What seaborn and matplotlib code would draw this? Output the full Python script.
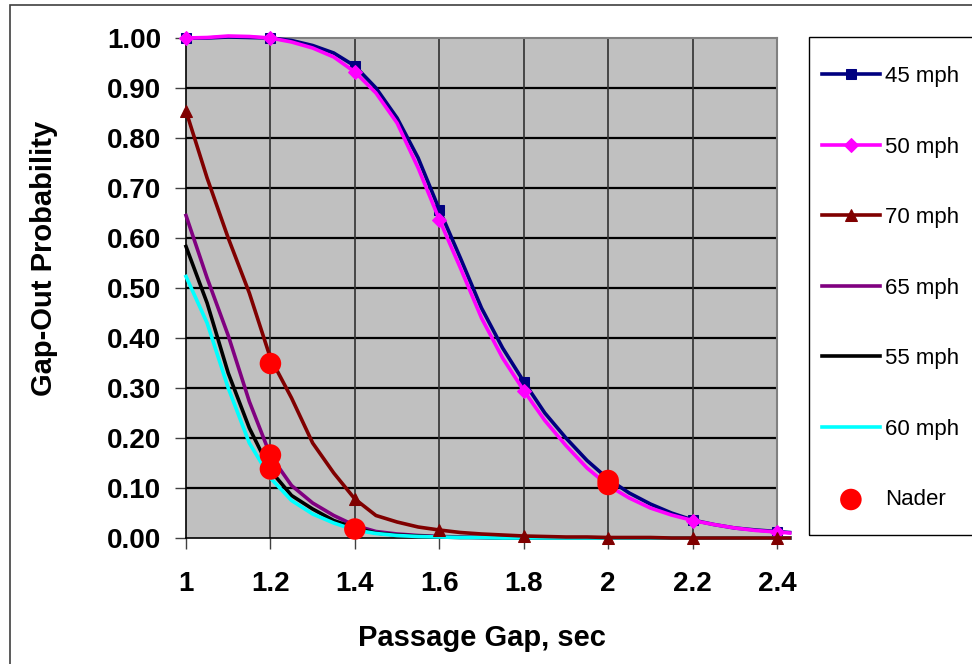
import matplotlib
matplotlib.use("Agg")
import matplotlib.pyplot as plt
import seaborn as sns
import pandas as pd
from matplotlib.patches import Rectangle
from matplotlib.ticker import FormatStrFormatter

# passage gap (sec), read at 0.05 s steps; last point runs just past the axis end
gap = [1.00, 1.05, 1.10, 1.15, 1.20, 1.25, 1.30, 1.35, 1.40, 1.45,
       1.50, 1.55, 1.60, 1.65, 1.70, 1.75, 1.80, 1.85, 1.90, 1.95,
       2.00, 2.05, 2.10, 2.15, 2.20, 2.25, 2.30, 2.35, 2.40, 2.43]

p45 = [1.000, 1.000, 1.002, 1.001, 1.000, 0.995, 0.985, 0.970, 0.944, 0.900,
       0.840, 0.760, 0.657, 0.560, 0.460, 0.380, 0.313, 0.250, 0.200, 0.155,
       0.118, 0.090, 0.068, 0.050, 0.036, 0.027, 0.020, 0.016, 0.013, 0.011]
p50 = [1.000, 1.001, 1.004, 1.003, 1.000, 0.992, 0.980, 0.962, 0.932, 0.890,
       0.830, 0.740, 0.637, 0.540, 0.440, 0.360, 0.295, 0.235, 0.185, 0.140,
       0.105, 0.080, 0.060, 0.046, 0.035, 0.027, 0.020, 0.015, 0.012, 0.010]
p70 = [0.854, 0.720, 0.600, 0.490, 0.360, 0.280, 0.190, 0.130, 0.078, 0.045,
       0.032, 0.022, 0.016, 0.011, 0.008, 0.006, 0.004, 0.003, 0.002, 0.002,
       0.001, 0.001, 0.001, 0.000, 0.000, 0.000, 0.000, 0.000, 0.000, 0.000]
p65 = [0.645, 0.520, 0.405, 0.273, 0.165, 0.105, 0.070, 0.045, 0.025, 0.013,
       0.008, 0.005, 0.003, 0.002, 0.001, 0.001, 0.000, 0.000, 0.000, 0.000,
       0.000, 0.000, 0.000, 0.000, 0.000, 0.000, 0.000, 0.000, 0.000, 0.000]
p55 = [0.583, 0.470, 0.330, 0.220, 0.135, 0.085, 0.058, 0.035, 0.020, 0.010,
       0.006, 0.004, 0.002, 0.001, 0.001, 0.000, 0.000, 0.000, 0.000, 0.000,
       0.000, 0.000, 0.000, 0.000, 0.000, 0.000, 0.000, 0.000, 0.000, 0.000]
p60 = [0.523, 0.430, 0.300, 0.190, 0.120, 0.075, 0.048, 0.030, 0.016, 0.009,
       0.005, 0.003, 0.002, 0.001, 0.001, 0.000, 0.000, 0.000, 0.000, 0.000,
       0.000, 0.000, 0.000, 0.000, 0.000, 0.000, 0.000, 0.000, 0.000, 0.000]

nader_gap = [1.2, 1.2, 1.2, 1.4, 2.0, 2.0]
nader_prob = [0.349, 0.166, 0.138, 0.018, 0.115, 0.107]

x_ticks = [1.0, 1.2, 1.4, 1.6, 1.8, 2.0, 2.2, 2.4]
y_ticks = [0.0, 0.1, 0.2, 0.3, 0.4, 0.5, 0.6, 0.7, 0.8, 0.9, 1.0]

series = [
    ("45 mph", p45, "#000080", "s", 7, 3.0),
    ("50 mph", p50, "#FF00FF", "D", 7, 3.1),
    ("70 mph", p70, "#800000", "^", 9, 3.6),
    ("65 mph", p65, "#800080", None, 0, 3.0),
    ("55 mph", p55, "#000000", None, 0, 3.0),
    ("60 mph", p60, "#00FFFF", None, 0, 3.0),
]

plt.rcParams["font.family"] = ["Liberation Sans", "DejaVu Sans"]

W, H = 972, 664
fig = plt.figure(figsize=(W / 100, H / 100), dpi=100)
ax = fig.add_axes([186 / W, (H - 538) / H, (777 - 186) / W, 500 / H])
ax.set_facecolor("#C0C0C0")

for label, vals, color, mk, ms, z in series:
    df = pd.DataFrame({"gap": gap, "prob": vals})
    kw = {}
    if mk:
        kw = dict(marker=mk, markersize=ms, markevery=[0, 4, 8, 12, 16, 20, 24, 28],
                  markeredgecolor=color, markerfacecolor=color)
    sns.lineplot(data=df, x="gap", y="prob", ax=ax, color=color, lw=2.6,
                 label=label, clip_on=False, zorder=z, **kw)

sns.scatterplot(x=nader_gap, y=nader_prob, ax=ax, color="#FF0000", s=240,
                edgecolor="none", label="Nader", zorder=4, clip_on=False)

ax.set_xlim(1.0, 2.4)
ax.set_ylim(0.0, 1.0)
ax.set_xticks(x_ticks)
ax.set_yticks(y_ticks)
ax.set_xticklabels(["1", "1.2", "1.4", "1.6", "1.8", "2", "2.2", "2.4"])
ax.yaxis.set_major_formatter(FormatStrFormatter("%.2f"))
ax.tick_params(axis="both", labelsize=20, length=8, width=1, color="#404040")
ax.tick_params(axis="x", pad=16)
ax.tick_params(axis="y", pad=10)
for t in ax.get_xticklabels() + ax.get_yticklabels():
    t.set_fontweight("bold")

ax.grid(False)
for y in y_ticks[1:-1]:
    ax.axhline(y, color="black", lw=1.6, zorder=1)
for x in x_ticks[1:-1]:
    ax.axvline(x, color="#303030", lw=1.2, zorder=1)

for side in ["top", "right"]:
    ax.spines[side].set_color("#808080")
    ax.spines[side].set_linewidth(1.5)
for side in ["left", "bottom"]:
    ax.spines[side].set_color("black")
    ax.spines[side].set_linewidth(1.2)

ax.set_xlabel("Passage Gap, sec", fontsize=21, fontweight="bold")
ax.set_ylabel("Gap-Out Probability", fontsize=21, fontweight="bold")
ax.xaxis.set_label_coords(0.50, -0.172)
ax.yaxis.set_label_coords(-0.217, 0.56)

ax.legend_.remove()
handles, labels = ax.get_legend_handles_labels()
fig.legend(handles, labels, loc="upper left",
           bbox_to_anchor=(822 / W, 1 - 66 / H), fontsize=16,
           frameon=False, labelspacing=2.23, handlelength=2.6,
           handletextpad=0.22, borderpad=0, borderaxespad=0)

# legend box, running off the right edge like the reference
fig.patches.append(Rectangle((809 / W, 1 - 535 / H), 0.5, (535 - 37) / H,
                             transform=fig.transFigure, fill=False,
                             edgecolor="black", lw=1.0))

# outer chart border
fig.patches.append(Rectangle((10 / W, -0.05), 1.1, 1 - 5 / H + 0.05,
                             transform=fig.transFigure, fill=False,
                             edgecolor="#404040", lw=1.2))

fig.savefig("out.png", dpi=100)
